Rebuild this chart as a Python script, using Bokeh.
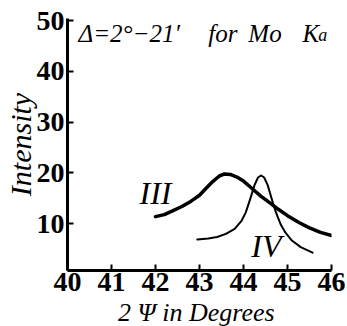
from bokeh.plotting import figure
from bokeh.models import Label, Range1d, FixedTicker
from bokeh.embed import file_html
from bokeh.resources import INLINE

# Curve III
x_iii = [42.0, 42.2, 42.4, 42.6, 42.8, 43.0, 43.15, 43.3, 43.45, 43.57, 43.7, 43.85,
         44.0, 44.2, 44.4, 44.6, 44.8, 45.0, 45.27, 45.5, 45.75, 46.0]
y_iii = [11.4, 11.8, 12.6, 13.4, 14.4, 15.6, 17.0, 18.3, 19.4, 19.8, 19.7, 19.2,
         18.4, 16.9, 15.4, 14.1, 12.8, 11.6, 10.2, 9.2, 8.3, 7.7]
# Curve IV
x_iv = [42.95, 43.2, 43.4, 43.6, 43.8, 43.95, 44.05, 44.15, 44.25, 44.33, 44.4, 44.47,
        44.55, 44.62, 44.7, 44.77, 44.85, 44.95, 45.1, 45.3, 45.57]
y_iv = [6.9, 7.1, 7.4, 8.0, 9.0, 10.5, 12.2, 14.8, 17.6, 19.1, 19.5, 19.1,
        17.6, 15.5, 13.2, 11.5, 9.8, 8.3, 6.7, 5.4, 4.3]

x_ticks = [40, 41, 42, 43, 44, 45, 46]
y_ticks = [10, 20, 30, 40, 50]

SERIF = "'Liberation Serif', 'DejaVu Serif', serif"

p = figure(width=345, height=326, output_backend="svg", toolbar_location=None,
           x_range=Range1d(40, 46), y_range=Range1d(0.8, 50.4),
           frame_width=264, frame_height=252,
           min_border_left=67, min_border_right=14, min_border_top=18, min_border_bottom=56)
p.outline_line_color = None
p.grid.visible = False
p.background_fill_color = "white"

for ax in (p.xaxis[0], p.yaxis[0]):
    ax.axis_line_width = 3
    ax.axis_line_color = "black"
    ax.major_tick_in = 6
    ax.major_tick_out = 0
    ax.major_tick_line_width = 2
    ax.minor_tick_line_color = None
    ax.major_label_text_font = SERIF
    ax.major_label_text_font_style = "bold"
    ax.major_label_text_font_size = "28px"
    ax.major_label_text_color = "black"
    ax.axis_label_text_font = SERIF
    ax.axis_label_text_font_style = "italic"
    ax.axis_label_text_color = "black"

p.xaxis.ticker = FixedTicker(ticks=x_ticks)
p.yaxis.ticker = FixedTicker(ticks=y_ticks)
p.xaxis.major_label_standoff = 2
p.yaxis.major_label_standoff = 3
p.xaxis.axis_label = "2 Ψ in  Degrees"
p.xaxis.axis_label_text_font_size = "26px"
p.xaxis.axis_label_standoff = 4
p.yaxis.axis_label = "Intensity"
p.yaxis.axis_label_text_font_size = "30px"
p.yaxis.axis_label_standoff = -3

p.line(x_iii, y_iii, line_width=3.5, line_color="black", line_join="round", line_cap="round")
p.line(x_iv, y_iv, line_width=2, line_color="black", line_join="round", line_cap="round")

title_kw = dict(text_font=SERIF, text_font_style="italic", text_font_size="25px",
                text_baseline="alphabetic", text_color="black")
p.add_layout(Label(x=40.25, y=47.5, text="Δ=2°−21′", **title_kw))
p.add_layout(Label(x=43.20, y=47.5, text="for", **title_kw))
p.add_layout(Label(x=44.11, y=47.5, text="Mo", **title_kw))
p.add_layout(Label(x=45.34, y=47.5, text="K", **title_kw))
p.add_layout(Label(x=45.70, y=47.1, text="a", text_font=SERIF, text_font_style="italic",
                   text_font_size="18px", text_baseline="alphabetic", text_color="black"))

lab_kw = dict(text_font=SERIF, text_font_style="italic", text_font_size="32px",
              text_baseline="middle", text_align="center", text_color="black")
p.add_layout(Label(x=42.0, y=16.1, text="III", **lab_kw))
p.add_layout(Label(x=44.52, y=5.6, text="IV", **lab_kw))

open("out.html", "w").write(file_html(p, INLINE))
